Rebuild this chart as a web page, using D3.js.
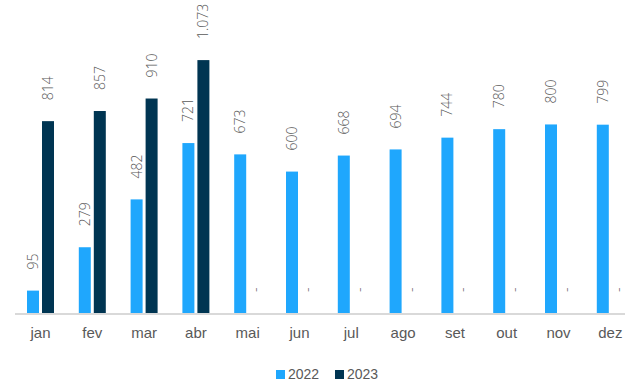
<!DOCTYPE html>
<html>
<head>
<meta charset="utf-8">
<script src="https://cdn.jsdelivr.net/npm/d3@7"></script>
<style>
    body { margin: 0; background: #fff; }
    .axis-label { font-family: "Liberation Sans", Arial, sans-serif; font-size: 15px; fill: #595959; }
    .value-label { font-family: "Open Sans", sans-serif; font-weight: 300; font-size: 14px; fill: #595959; }
    .legend-label { font-family: "Liberation Sans", Arial, sans-serif; font-size: 14px; fill: #595959; }
</style>
</head>
<body>
<svg id="canvas" width="625" height="381"></svg>
<script>
// Chart data
const months = ["jan", "fev", "mar", "abr", "mai", "jun", "jul", "ago", "set", "out", "nov", "dez"];
const values2022 = [95, 279, 482, 721, 673, 600, 668, 694, 744, 780, 800, 799];
const values2023 = [814, 857, 910, 1073, 0, 0, 0, 0, 0, 0, 0, 0];
const seriesNames = ["2022", "2023"];
const seriesColors = ["#1fa7fd", "#003552"];

const svg = d3.select("#canvas");

const baseline = 313;

const x = d3.scaleBand()
    .domain(months)
    .range([14.6, 14.6 + 12 * 51.8])
    .paddingInner(0)
    .paddingOuter(0);

const y = d3.scaleLinear()
    .domain([0, 1328])
    .range([baseline, 0]);

const barWidth = 12;
const barGap = 3;

// bar x offset for series i within a category band
function barX(month, i) {
    const center = x(month) + x.bandwidth() / 2;
    return center - barWidth - barGap / 2 + i * (barWidth + barGap);
}

const series = [values2022, values2023];

series.forEach((vals, i) => {
    const rows = months.map((m, k) => ({ month: m, value: vals[k] }));

    svg.selectAll(".bar-" + i)
        .data(rows.filter(d => d.value > 0))
        .enter()
        .append("rect")
        .attr("class", "bar-" + i)
        .attr("x", d => barX(d.month, i))
        .attr("width", barWidth)
        .attr("y", d => y(d.value))
        .attr("height", d => baseline - y(d.value))
        .attr("fill", seriesColors[i]);

    svg.selectAll(".label-" + i)
        .data(rows)
        .enter()
        .append("text")
        .attr("class", "value-label")
        .attr("transform", d => {
            const cx = barX(d.month, i) + barWidth / 2 + 5;
            const cy = y(d.value) - 21;
            return "translate(" + cx + "," + cy + ") rotate(-90)";
        })
        .attr("text-anchor", "start")
        .text(d => d.value > 0 ? d3.format(",")(d.value).replace(",", ".") : "-");
});

// baseline axis
svg.append("line")
    .attr("x1", 15)
    .attr("x2", 625)
    .attr("y1", baseline + 1)
    .attr("y2", baseline + 1)
    .attr("stroke", "#d9d9d9")
    .attr("stroke-width", 2);

svg.selectAll(".axis-label")
    .data(months)
    .enter()
    .append("text")
    .attr("class", "axis-label")
    .attr("x", d => x(d) + x.bandwidth() / 2)
    .attr("y", 338)
    .attr("text-anchor", "middle")
    .text(d => d);

// legend
const legendX = [276, 335];
seriesNames.forEach((name, i) => {
    svg.append("rect")
        .attr("x", legendX[i])
        .attr("y", 370)
        .attr("width", 9)
        .attr("height", 9)
        .attr("fill", seriesColors[i]);
    svg.append("text")
        .attr("class", "legend-label")
        .attr("x", legendX[i] + 12)
        .attr("y", 379)
        .text(name);
});
</script>
</body>
</html>
